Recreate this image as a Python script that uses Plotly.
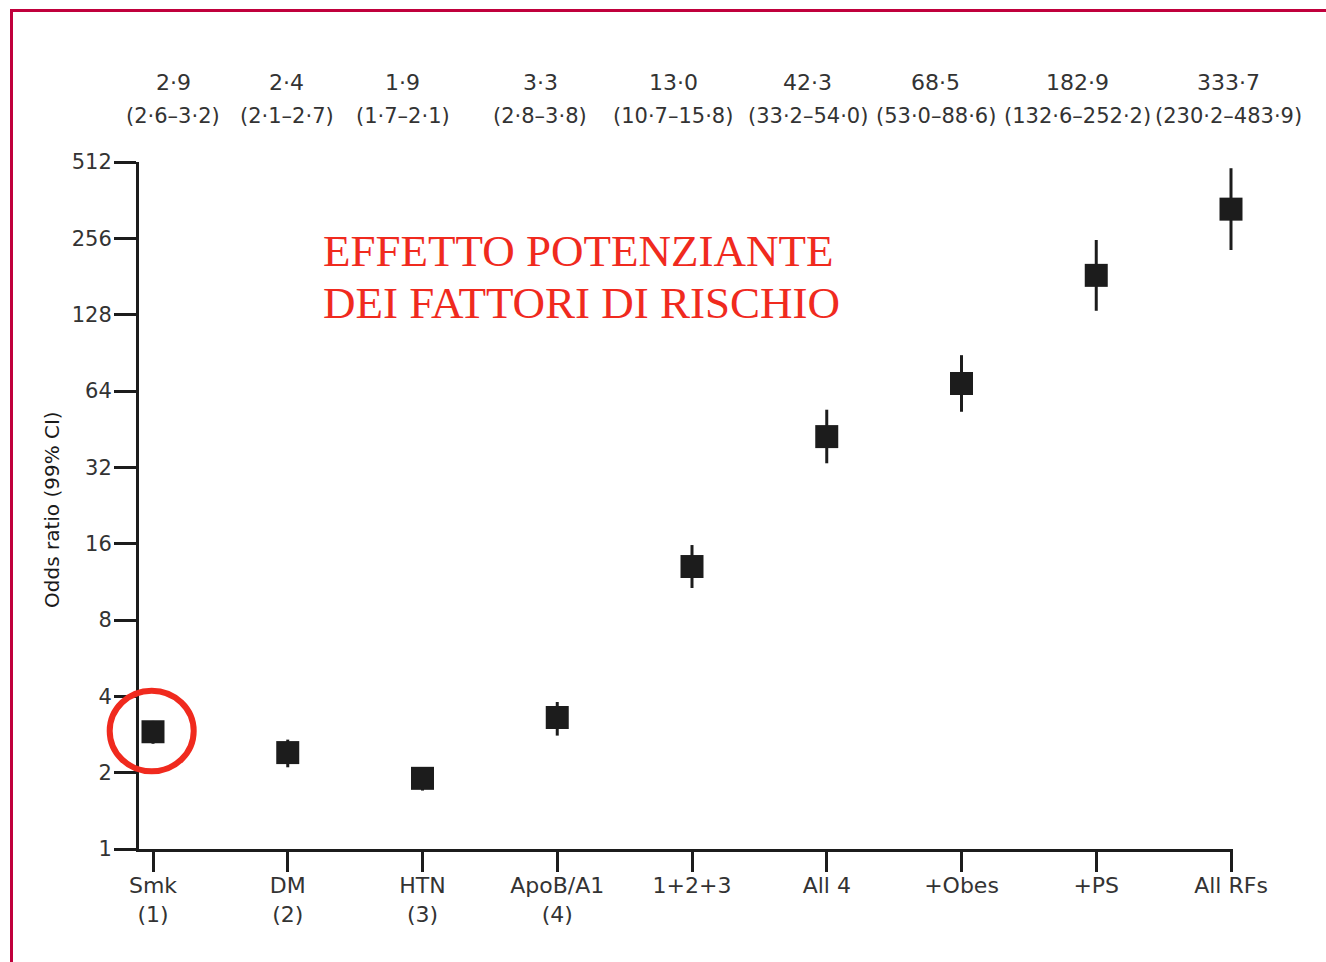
import math
import plotly.graph_objects as go

# ---- data ----
categories = ["Smk<br>(1)", "DM<br>(2)", "HTN<br>(3)", "ApoB/A1<br>(4)", "1+2+3",
              "All 4", "+Obes", "+PS", "All RFs"]
odds_ratio = [2.9, 2.4, 1.9, 3.3, 13.0, 42.3, 68.5, 182.9, 333.7]
ci_lower = [2.6, 2.1, 1.7, 2.8, 10.7, 33.2, 53.0, 132.6, 230.2]
ci_upper = [3.2, 2.7, 2.1, 3.8, 15.8, 54.0, 88.6, 252.2, 483.9]
or_labels = ["2·9", "2·4", "1·9", "3·3", "13·0", "42·3", "68·5", "182·9", "333·7"]
ci_labels = ["(2·6–3·2)", "(2·1–2·7)", "(1·7–2·1)", "(2·8–3·8)", "(10·7–15·8)",
             "(33·2–54·0)", "(53·0–88·6)", "(132·6–252·2)", "(230·2–483·9)"]
y_ticks = [1, 2, 4, 8, 16, 32, 64, 128, 256, 512]

# ---- layout geometry (pixels) ----
W, H = 1326, 962
L, R, T, B = 139, 93, 162, 113
PW, PH = W - L - R, H - T - B


def px(xp):
    return (xp - L) / PW


def py(yp):
    return (H - B - yp) / PH


label_shift = [20, -1, -20, -17, -19, -19, -26, -19, -3]
idx = list(range(len(categories)))
ink = "#1c1c1c"
step = 134.75

fig = go.Figure()
fig.add_trace(go.Scatter(
    x=idx, y=odds_ratio, mode="markers",
    marker=dict(symbol="square", size=23, color=ink),
    error_y=dict(type="data", symmetric=False,
                 array=[u - o for u, o in zip(ci_upper, odds_ratio)],
                 arrayminus=[o - l for o, l in zip(odds_ratio, ci_lower)],
                 thickness=3, width=0, color=ink),
    cliponaxis=False, showlegend=False, hoverinfo="skip"))

annotations = []
for i in idx:
    annotations.append(dict(x=i, xref="x", y=py(83), yref="paper", text=or_labels[i],
                            showarrow=False, xshift=label_shift[i], xanchor="center",
                            yanchor="middle", font=dict(size=22, color="#333333")))
    annotations.append(dict(x=i, xref="x", y=py(116), yref="paper", text=ci_labels[i],
                            showarrow=False, xshift=label_shift[i], xanchor="center",
                            yanchor="middle", font=dict(size=21, color="#333333")))

annotations.append(dict(x=px(52), y=py(510), xref="paper", yref="paper",
                        text="Odds ratio (99% CI)", textangle=-90, showarrow=False,
                        xanchor="center", yanchor="middle",
                        font=dict(size=20, color="#1a1a1a")))

red = "#f02a1e"
for txt, yc in [("EFFETTO POTENZIANTE", 251), ("DEI FATTORI DI RISCHIO", 303)]:
    annotations.append(dict(x=px(321), y=py(yc), xref="paper", yref="paper", text=txt,
                            showarrow=False, xanchor="left", yanchor="middle",
                            font=dict(family="Liberation Serif", size=45, color=red)))

shapes = [
    dict(type="circle", xref="paper", yref="paper",
         x0=px(109.7), x1=px(193.7), y0=py(771.3), y1=py(690.7),
         line=dict(color=red, width=6)),
    dict(type="line", xref="paper", yref="paper",
         x0=px(10), x1=px(1326), y0=py(10.5), y1=py(10.5),
         line=dict(color="#c0003c", width=3)),
    dict(type="line", xref="paper", yref="paper",
         x0=px(11.5), x1=px(11.5), y0=py(9), y1=py(962),
         line=dict(color="#c0003c", width=3)),
]

fig.update_layout(
    width=W, height=H,
    margin=dict(l=L, r=R, t=T, b=B, pad=0),
    paper_bgcolor="white", plot_bgcolor="white",
    font=dict(family="DejaVu Sans", color="#333333"),
    annotations=annotations, shapes=shapes,
    xaxis=dict(range=[-(153 - L) / step, 8 + (W - R - 1231) / step], tickmode="array",
               tickvals=idx, ticktext=categories, showgrid=False, zeroline=False,
               showline=True, linewidth=3, linecolor=ink,
               ticks="outside", ticklen=20, tickwidth=3, tickcolor=ink,
               ticklabelstandoff=-5,
               tickfont=dict(size=22, color="#333333")),
    yaxis=dict(type="log", range=[0, math.log10(512)], tickmode="array",
               tickvals=y_ticks, ticktext=[str(v) for v in y_ticks],
               showgrid=False, zeroline=False,
               showline=True, linewidth=3, linecolor=ink,
               ticks="outside", ticklen=22, tickwidth=3, tickcolor=ink,
               ticklabelstandoff=-2,
               tickfont=dict(size=21, color="#333333")),
)

fig.write_html("out.html", config={"displayModeBar": False},
               post_script="document.body.style.margin='0';")
